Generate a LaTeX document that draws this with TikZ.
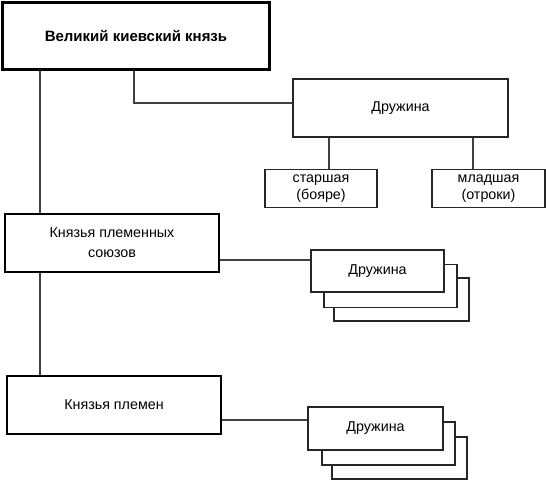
\documentclass[tikz,border=0pt]{standalone}
\usepackage{fontspec}
\setmainfont{Liberation Sans}
\begin{document}
\begin{tikzpicture}[x=1pt,y=-1pt,
  every node/.style={inner sep=0pt, align=center, font=\fontsize{14.3}{20}\selectfont},
  mainbox/.style={draw=black, line width=2.2pt, fill=white},
  thinbox/.style={draw=black!85, line width=1.1pt, fill=white},
  smallbox/.style={thinbox, minimum height=38pt, font=\fontsize{14.3}{17}\selectfont},
  conn/.style={draw=black!75, line width=1.2pt}]
\useasboundingbox (0,0) rectangle (546,480);
% top
\node[mainbox, minimum width=267pt, minimum height=67pt, font=\fontsize{15}{20}\selectfont\bfseries] (top) at (136,36) {Великий киевский князь};
\node[thinbox, minimum width=215pt, minimum height=58pt] (druzh) at (400.5,108) {Дружина};
\node[smallbox, minimum width=112pt] (star) at (321,188.5) {старшая\\(бояре)};
\node[smallbox, minimum width=113pt] (mlad) at (488.5,188.5) {младшая\\(отроки)};
% princes of tribal unions
\node[mainbox, minimum width=214pt, minimum height=58pt] (kps) at (112,243) {Князья племенных\\союзов};
\node[thinbox, minimum width=135pt, minimum height=43pt] (d1c) at (401.5,299.5) {};
\node[thinbox, minimum width=133pt, minimum height=43pt] (d1b) at (390.5,286) {};
\node[thinbox, minimum width=133pt, minimum height=42pt] (d1) at (377.5,271) {Дружина};
% princes of tribes
\node[mainbox, minimum width=214pt, minimum height=58pt] (kp) at (114,405) {Князья племен};
\node[thinbox, minimum width=135pt, minimum height=42pt] (d2c) at (399.5,458) {};
\node[thinbox, minimum width=133pt, minimum height=43pt] (d2b) at (388.5,443.5) {};
\node[thinbox, minimum width=135pt, minimum height=43pt] (d2) at (375.5,428.5) {Дружина};
% coordinates for connector positions
\coordinate (xl) at (40,0);
\coordinate (ja) at (134,103);
\coordinate (xs) at (329,0);
\coordinate (xm) at (473,0);
\coordinate (y1) at (0,260);
\coordinate (y2) at (0,420);
% connectors
\draw[conn] (top.south -| xl) -- (kps.north -| xl);
\draw[conn] (kps.south -| xl) -- (kp.north -| xl);
\draw[conn] (top.south -| ja) |- (druzh.west |- ja);
\draw[conn] (druzh.south -| xs) -- (star.north -| xs);
\draw[conn] (druzh.south -| xm) -- (mlad.north -| xm);
\draw[conn] (kps.east |- y1) -- (d1.west |- y1);
\draw[conn] (kp.east |- y2) -- (d2.west |- y2);
\end{tikzpicture}
\end{document}
